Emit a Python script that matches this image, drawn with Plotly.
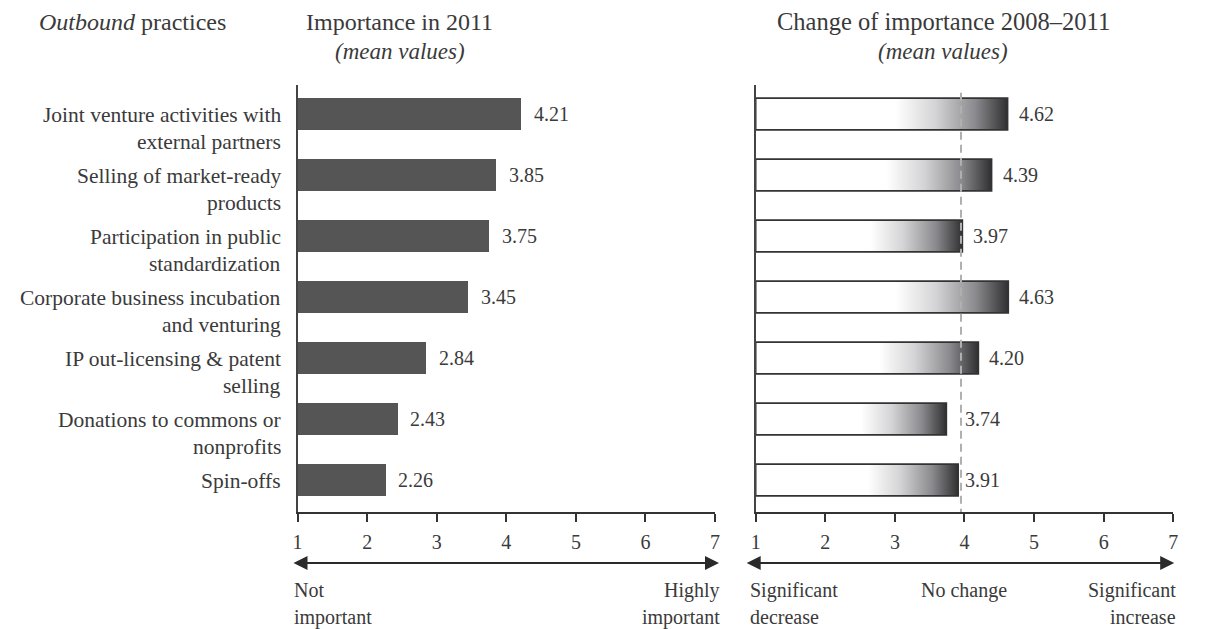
import plotly.graph_objects as go

# Outbound open-innovation practices
practices = [
    ["Joint venture activities with", "external partners"],
    ["Selling of market-ready", "products"],
    ["Participation in public", "standardization"],
    ["Corporate business incubation", "and venturing"],
    ["IP out-licensing & patent", "selling"],
    ["Donations to commons or", "nonprofits"],
    ["Spin-offs"],
]
importance_2011 = [4.21, 3.85, 3.75, 3.45, 2.84, 2.43, 2.26]
change_2008_2011 = [4.62, 4.39, 3.97, 4.63, 4.20, 3.74, 3.91]
no_change_ref = 3.95
scale_ticks = [1, 2, 3, 4, 5, 6, 7]

FONT = "Liberation Serif"
INK = "#3a3a3a"
W, H = 1205, 629

def px_x(p):
    return p / W

def px_y(p):
    return 1 - p / H

pos = list(range(len(practices)))
bar_w = 0.52
fig = go.Figure()

# Left panel: solid bars measured from the scale origin (1)
fig.add_trace(go.Bar(
    y=pos, x=[v - 1 for v in importance_2011], base=1, orientation="h",
    width=bar_w, marker=dict(color="#555556", line=dict(width=0)),
    xaxis="x", yaxis="y", hoverinfo="skip", showlegend=False,
))

# Right panel: outlined bars with a white-to-dark horizontal gradient
for i, v in zip(pos, change_2008_2011):
    y0, y1 = i - bar_w / 2, i + bar_w / 2
    fig.add_trace(go.Scatter(
        x=[1, v, v, 1, 1], y=[y0, y0, y1, y1, y0],
        mode="lines", fill="toself",
        fillgradient=dict(
            type="horizontal",
            colorscale=[[0, "#ffffff"], [0.35, "#d4d4d6"], [0.7, "#8a8a8e"], [1, "#2a2a2c"]],
            start=1 + 0.55 * (v - 1), stop=v,
        ),
        line=dict(color="#333333", width=1.6),
        xaxis="x2", yaxis="y2", hoverinfo="skip", showlegend=False,
    ))

# "No change" reference line
fig.add_trace(go.Scatter(
    x=[no_change_ref, no_change_ref], y=[-0.35, 6.525], mode="lines",
    line=dict(color="#b0b0b0", width=2, dash="8px,5px"),
    xaxis="x2", yaxis="y2", hoverinfo="skip", showlegend=False,
))

xdom_l = [px_x(295), px_x(716)]
xdom_r = [px_x(757), px_x(1178)]
ydom = [px_y(512), px_y(85)]

axis_common = dict(
    range=[1, 7], tickvals=scale_ticks, ticktext=[str(t) for t in scale_ticks],
    showgrid=False, zeroline=False, showline=True, linecolor="#333333", linewidth=1.5,
    ticks="outside", ticklen=8, tickwidth=1.5, tickcolor="#333333",
    ticklabelstandoff=3,
    tickfont=dict(family=FONT, size=20, color=INK), fixedrange=True,
)
yaxis_common = dict(
    range=[6.525, -0.475], showgrid=False, zeroline=False, showticklabels=False,
    showline=True, linecolor="#444444", linewidth=1.5, ticks="", fixedrange=True,
    domain=ydom,
)

fig.update_layout(
    width=W, height=H, margin=dict(l=0, r=0, t=0, b=0),
    paper_bgcolor="white", plot_bgcolor="white", bargap=0,
    xaxis=dict(domain=xdom_l, anchor="y", **axis_common),
    xaxis2=dict(domain=xdom_r, anchor="y2", **axis_common),
    yaxis=dict(anchor="x", **yaxis_common),
    yaxis2=dict(anchor="x2", **yaxis_common),
)

ann = []

def text(x, y, s, size=20, xanchor="center", xref="paper", yref="paper", xshift=0, yshift=0):
    ann.append(dict(x=x, y=y, xref=xref, yref=yref, text=s, showarrow=False,
                    xanchor=xanchor, yanchor="middle", xshift=xshift, yshift=yshift,
                    font=dict(family=FONT, size=size, color=INK)))

# Headers
text(px_x(32), px_y(22), "<i>Outbound</i> practices", size=24, xanchor="left")
text(px_x(398), px_y(22), "Importance in 2011", size=24)
text(px_x(398), px_y(51), "<i>(mean values)</i>", size=23)
text(px_x(946), px_y(22), "Change of importance 2008–2011", size=24.5)
text(px_x(946), px_y(51), "<i>(mean values)</i>", size=23)

# Category labels
for i, lines in zip(pos, practices):
    for k, line in enumerate(lines):
        text(px_x(280), i, line, size=21.5, xanchor="right", yref="y", yshift=-1 - 27 * k)

# Value labels
for i, v in zip(pos, importance_2011):
    text(v, i, f"{v:.2f}", size=20, xanchor="left", xref="x", yref="y", xshift=11)
for i, v in zip(pos, change_2008_2011):
    xpos = max(v, no_change_ref)
    text(xpos, i, f"{v:.2f}", size=20, xanchor="left", xref="x2", yref="y2",
         xshift=9 if v >= no_change_ref else 2)

# Double-headed scale arrows
for left, right in ((293, 720), (750, 1179)):
    ann.append(dict(x=px_x(right), y=px_y(563), xref="paper", yref="paper",
                    ax=left - right, ay=0, axref="pixel", ayref="pixel",
                    text="", showarrow=True, arrowhead=2, startarrowhead=2,
                    arrowside="end+start", arrowsize=1.4, startarrowsize=1.4,
                    arrowwidth=2, arrowcolor="#2a2a2a"))

# Scale end descriptions
text(px_x(289), px_y(590), "Not", xanchor="left")
text(px_x(289), px_y(617), "important", xanchor="left")
text(px_x(723), px_y(590), "Highly", xanchor="right")
text(px_x(723), px_y(617), "important", xanchor="right")
text(px_x(749), px_y(590), "Significant", xanchor="left")
text(px_x(749), px_y(617), "decrease", xanchor="left")
text(px_x(967), px_y(590), "No change")
text(px_x(1183), px_y(590), "Significant", xanchor="right")
text(px_x(1183), px_y(617), "increase", xanchor="right")

fig.update_layout(annotations=ann)
fig.write_html("out.html")
